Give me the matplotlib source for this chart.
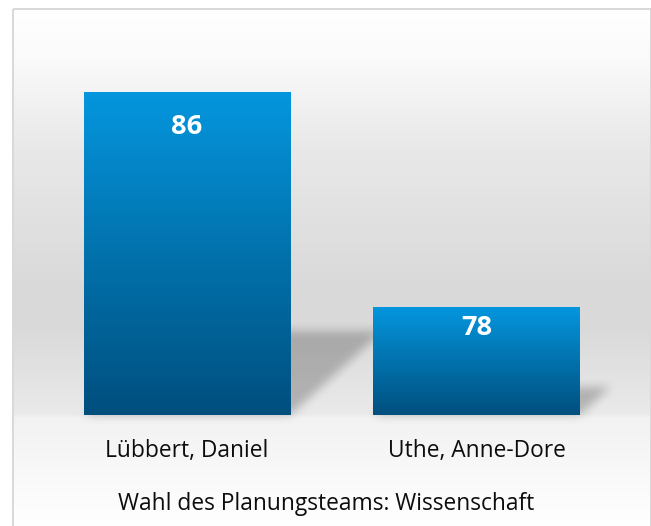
import numpy as np
import matplotlib.pyplot as plt
from matplotlib.patches import Rectangle
from matplotlib.colors import LinearSegmentedColormap

# data
names = ["Lübbert, Daniel", "Uthe, Anne-Dore"]
votes = [86, 78]
title = "Wahl des Planungsteams: Wissenschaft"

W, H = 651, 526
plt.rcParams['font.family'] = ['Open Sans', 'DejaVu Sans']

fig = plt.figure(figsize=(W / 100, H / 100), dpi=100)

# background layer in pixel coordinates (y down)
bg = fig.add_axes([0, 0, 1, 1])
bg.set_xlim(0, W)
bg.set_ylim(H, 0)
bg.axis('off')

ys = np.arange(10, H) + 0.5
stop_y = [10, 60, 150, 290, 330, 414, 418, 526]
stop_v = [255, 250, 232, 217, 218, 234, 242, 255]
g = np.interp(ys, stop_y, stop_v) / 255
bg.imshow(np.dstack([g[:, None]] * 3), extent=(14, 650, H, 10),
          aspect='auto', interpolation='bilinear', zorder=0)
bg.add_patch(Rectangle((13, 9), 637.5, H, fill=False, edgecolor='#d9d9d9',
                       linewidth=1.44, zorder=3))

# main chart
ax = fig.add_axes([42.25 / W, (H - 415) / H, 579 / W, 377 / H])
ax.patch.set_visible(False)
for s in ax.spines.values():
    s.set_visible(False)
ax.set_xticks([])
ax.set_yticks([])

x = np.arange(len(names))
bars = ax.bar(x, np.array(votes) - 74, bottom=74, width=0.713,
              facecolor='none', edgecolor='none')

cmap = LinearSegmentedColormap.from_list('bar', ['#004f7e', '#0272ad', '#0596de'])
grad = np.linspace(0, 1, 256).reshape(-1, 1)
for b in bars:
    im = ax.imshow(grad, cmap=cmap, origin='lower', aspect='auto',
                   extent=(b.get_x(), b.get_x() + b.get_width(),
                           b.get_y(), b.get_y() + b.get_height()), zorder=2)
    im.set_clip_path(b)
ax.set_xlim(-0.5, 1.5)
ax.set_ylim(74, 88)


def box_blur(a, r):
    k = 2 * r + 1
    p = np.pad(a, r, mode='edge')
    c = np.vstack([np.zeros((1, p.shape[1])), np.cumsum(p, axis=0)])
    a = (c[k:] - c[:-k]) / k
    c = np.hstack([np.zeros((a.shape[0], 1)), np.cumsum(a, axis=1)])
    return (c[:, k:] - c[:, :-k]) / k


# perspective shadows cast by the bars onto the wall
yy, xx = np.mgrid[0:H, 0:W] + 0.5
mask = np.zeros((H, W))
for b in bars:
    (px0, py0), (px1, py1) = ax.transData.transform(
        [(b.get_x(), b.get_y()), (b.get_x() + b.get_width(), b.get_y() + b.get_height())])
    yb, yt = H - py0, H - py1
    sh = 0.26 * (yb - yt)
    t = (yb - yy) * 1.1
    m = (yy <= yb) & (yy >= yb - sh) & (xx >= px0 + t) & (xx <= px1 + t)
    mask[m] = 1
mask = box_blur(box_blur(mask, 5), 5)
shadow = np.zeros((H, W, 4))
shadow[..., 3] = 0.23 * mask
bg.imshow(shadow, extent=(0, W, H, 0), aspect='auto', zorder=1)
bg.set_xlim(0, W)
bg.set_ylim(H, 0)

# value labels inside bars
label_drop = [30.2, 20.2]
for b, v, d in zip(bars, votes, label_drop):
    ax.annotate(str(v), (b.get_x() + b.get_width() / 2, v), xytext=(0, -d),
                textcoords='offset points', ha='center', va='baseline',
                color='white', fontsize=19.5, fontweight='bold')

# category labels
for i, n in zip(x, names):
    ax.annotate(n, (i, 74), xytext=(0, -30.6), textcoords='offset points',
                ha='center', va='baseline', fontsize=16.4, color='#0d0d0d',
                annotation_clip=False)

fig.text(326 / W, (H - 509.5) / H, title, ha='center', va='baseline',
         fontsize=16.4, color='#0d0d0d')

fig.savefig('out.png', dpi=100)
